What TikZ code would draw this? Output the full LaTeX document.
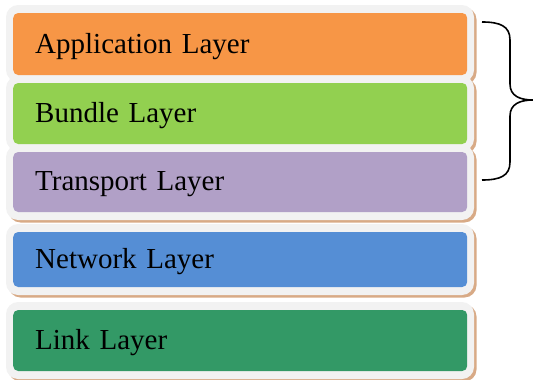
\documentclass[tikz,border=0pt]{standalone}
\usepackage{fontspec}
\setmainfont{Liberation Serif}
\usetikzlibrary{positioning}
\definecolor{appcol}{HTML}{F79646}
\definecolor{bundlecol}{HTML}{92D050}
\definecolor{transportcol}{HTML}{B1A0C7}
\definecolor{networkcol}{HTML}{558ED5}
\definecolor{linkcol}{HTML}{339966}
\definecolor{framegray}{HTML}{F2F2F2}
\definecolor{shadowtan}{HTML}{D8AA86}
\begin{document}
\begin{tikzpicture}[x=1pt,y=-1pt,
        frame/.style={fill=framegray, rounded corners=12,
            preaction={fill=shadowtan, transform canvas={xshift=2.5pt,yshift=-2.5pt}}},
        layer/.style={anchor=west, rounded corners=5, minimum width=454pt,
            text width=410pt, align=left, inner xsep=22pt, text depth=2pt,
            font=\fontsize{29}{34}\selectfont}]
                \useasboundingbox (0,0) rectangle (533,380);
                % grey frames with shadow
                \fill [frame] (6,5) rectangle (474,82);
                \fill [frame] (6,76) rectangle (474,151);
                \fill [frame] (6,145) rectangle (474,220);
                \fill [frame] (6,224) rectangle (474,295);
                \fill [frame] (6,302) rectangle (474,379);
                % the layers
                \node [layer, fill=appcol, minimum height=62pt] (app) at (13,44) {Application Layer};
                \node [layer, fill=bundlecol, minimum height=61pt] (bundle) at (13,113.5) {Bundle Layer};
                \node [layer, fill=transportcol, minimum height=60pt] (transport) at (13,182) {Transport Layer};
                \node [layer, fill=networkcol, minimum height=55pt] (network) at (13,259.5) {Network Layer};
                \node [layer, fill=linkcol, minimum height=61pt] (link) at (13,340.5) {Link Layer};
                % brace over the top three
                \draw [line width=1.6pt] (482,22) .. controls (500,22) and (510,26) .. (510,40)
                    -- (510,84) .. controls (510,96) and (520,100) .. (533,100)
                    .. controls (520,100) and (510,104) .. (510,116)
                    -- (510,162) .. controls (510,176) and (500,180) .. (482,180);
            \end{tikzpicture}
\end{document}
